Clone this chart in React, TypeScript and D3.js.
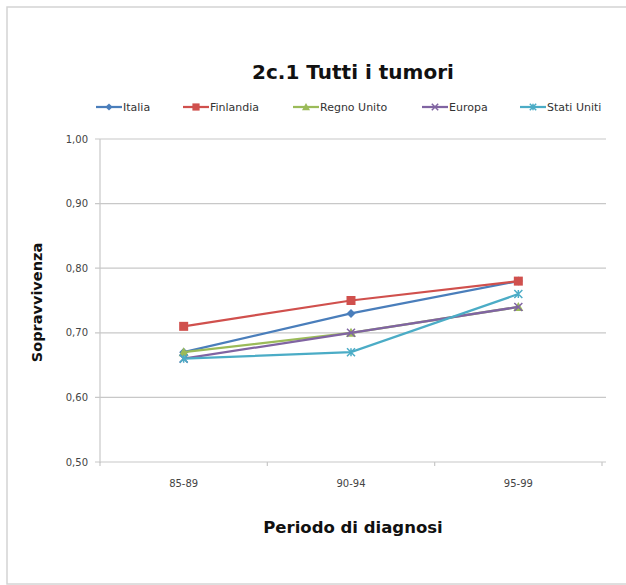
import React from "react";
import * as d3 from "d3";

const categories = ["85-89", "90-94", "95-99"];
const seriesNames = ["Italia", "Finlandia", "Regno Unito", "Europa", "Stati Uniti"];
const italia = [0.67, 0.73, 0.78];
const finlandia = [0.71, 0.75, 0.78];
const regnoUnito = [0.67, 0.70, 0.74];
const europa = [0.66, 0.70, 0.74];
const statiUniti = [0.66, 0.67, 0.76];
const yTicks = [0.5, 0.6, 0.7, 0.8, 0.9, 1.0];

const colors = ["#4a7ebb", "#d0504d", "#9bbb59", "#8064a2", "#4bacc6"];
const markers = ["diamond", "square", "triangle", "star", "x"];
const seriesValues = [italia, finlandia, regnoUnito, europa, statiUniti];

const W = 626, H = 585;
const left = 100, right = 602, top = 139, bottom = 462;

function Marker({ type, x, y, color, k = 1 }: { type: string; x: number; y: number; color: string; k?: number }) {
  if (type === "diamond") {
    const s = 4.5 * k;
    return <path d={`M${x},${y - s}L${x + s},${y}L${x},${y + s}L${x - s},${y}Z`} fill={color} />;
  }
  if (type === "square") {
    const s = 4.5 * k;
    return <rect x={x - s} y={y - s} width={2 * s} height={2 * s} fill={color} />;
  }
  if (type === "triangle") {
    const s = 5 * k;
    return <path d={`M${x},${y - s}L${x + s},${y + s * 0.8}L${x - s},${y + s * 0.8}Z`} fill={color} />;
  }
  if (type === "star") {
    const s = 4 * k;
    return (
      <path
        d={`M${x - s},${y - s}L${x + s},${y + s}M${x - s},${y + s}L${x + s},${y - s}`}
        stroke={color}
        strokeWidth={1.5}
      />
    );
  }
  const s = 4 * k;
  return (
    <path
      d={`M${x - s},${y - s}L${x + s},${y + s}M${x - s},${y + s}L${x + s},${y - s}M${x},${y - s}L${x},${y + s}`}
      stroke={color}
      strokeWidth={1.5}
    />
  );
}

export default function App() {
  const x = d3.scaleBand<string>().domain(categories).range([left, right]);
  const y = d3.scaleLinear().domain([0.5, 1.0]).range([bottom, top]);
  const cx = (c: string) => (x(c) as number) + x.bandwidth() / 2;
  const line = d3
    .line<number>()
    .x((_, i) => cx(categories[i]))
    .y((d) => y(d));

  const legendX = [96, 183, 293, 422, 520];
  const font = "'DejaVu Sans', Verdana, sans-serif";

  return (
    <svg
      width={W}
      height={H}
      style={{ position: "absolute", left: 0, top: 0, background: "#fff" }}
      fontFamily={font}
    >
      <rect x={7} y={7} width={640} height={577} fill="#fff" stroke="#d4d4d4" strokeWidth={1.5} />
      <text x={353} y={79} textAnchor="middle" fontSize={20} fontWeight="bold" fill="#111">
        2c.1 Tutti i tumori
      </text>
      {seriesNames.map((n, i) => (
        <g key={n}>
          <line x1={legendX[i]} x2={legendX[i] + 26} y1={107} y2={107} stroke={colors[i]} strokeWidth={2.25} />
          <Marker type={markers[i]} x={legendX[i] + 13} y={107} color={colors[i]} k={0.8} />
          <text x={legendX[i] + 27} y={111} fontSize={11} fill="#333">
            {n}
          </text>
        </g>
      ))}
      {yTicks.map((t) => (
        <g key={t}>
          <line x1={left - 5} x2={606} y1={y(t)} y2={y(t)} stroke="#c8c8c8" strokeWidth={1.2} />
          <text x={88} y={y(t) + 3.5} textAnchor="end" fontSize={10} fill="#444">
            {d3.format(".2f")(t).replace(".", ",")}
          </text>
        </g>
      ))}
      <line x1={left} x2={left} y1={top} y2={bottom + 1} stroke="#c8c8c8" strokeWidth={1.2} />
      {[...categories.map((c) => x(c) as number), right].map((v, i) => (
        <line key={i} x1={v} x2={v} y1={bottom} y2={bottom + 4} stroke="#c8c8c8" strokeWidth={1.2} />
      ))}
      {categories.map((c) => (
        <text key={c} x={cx(c)} y={487} textAnchor="middle" fontSize={10} fill="#444">
          {c}
        </text>
      ))}
      <text x={353} y={533} textAnchor="middle" fontSize={16.5} fontWeight="bold" fill="#111">
        Periodo di diagnosi
      </text>
      <text
        transform={`translate(42,${(top + bottom) / 2 + 2}) rotate(-90)`}
        textAnchor="middle"
        fontSize={14.5}
        fontWeight="bold"
        fill="#111"
      >
        Sopravvivenza
      </text>
      {seriesValues.map((vals, i) => (
        <g key={i}>
          <path d={line(vals) as string} fill="none" stroke={colors[i]} strokeWidth={2.25} />
          {vals.map((v, j) => (
            <Marker key={j} type={markers[i]} x={cx(categories[j])} y={y(v)} color={colors[i]} />
          ))}
        </g>
      ))}
    </svg>
  );
}
